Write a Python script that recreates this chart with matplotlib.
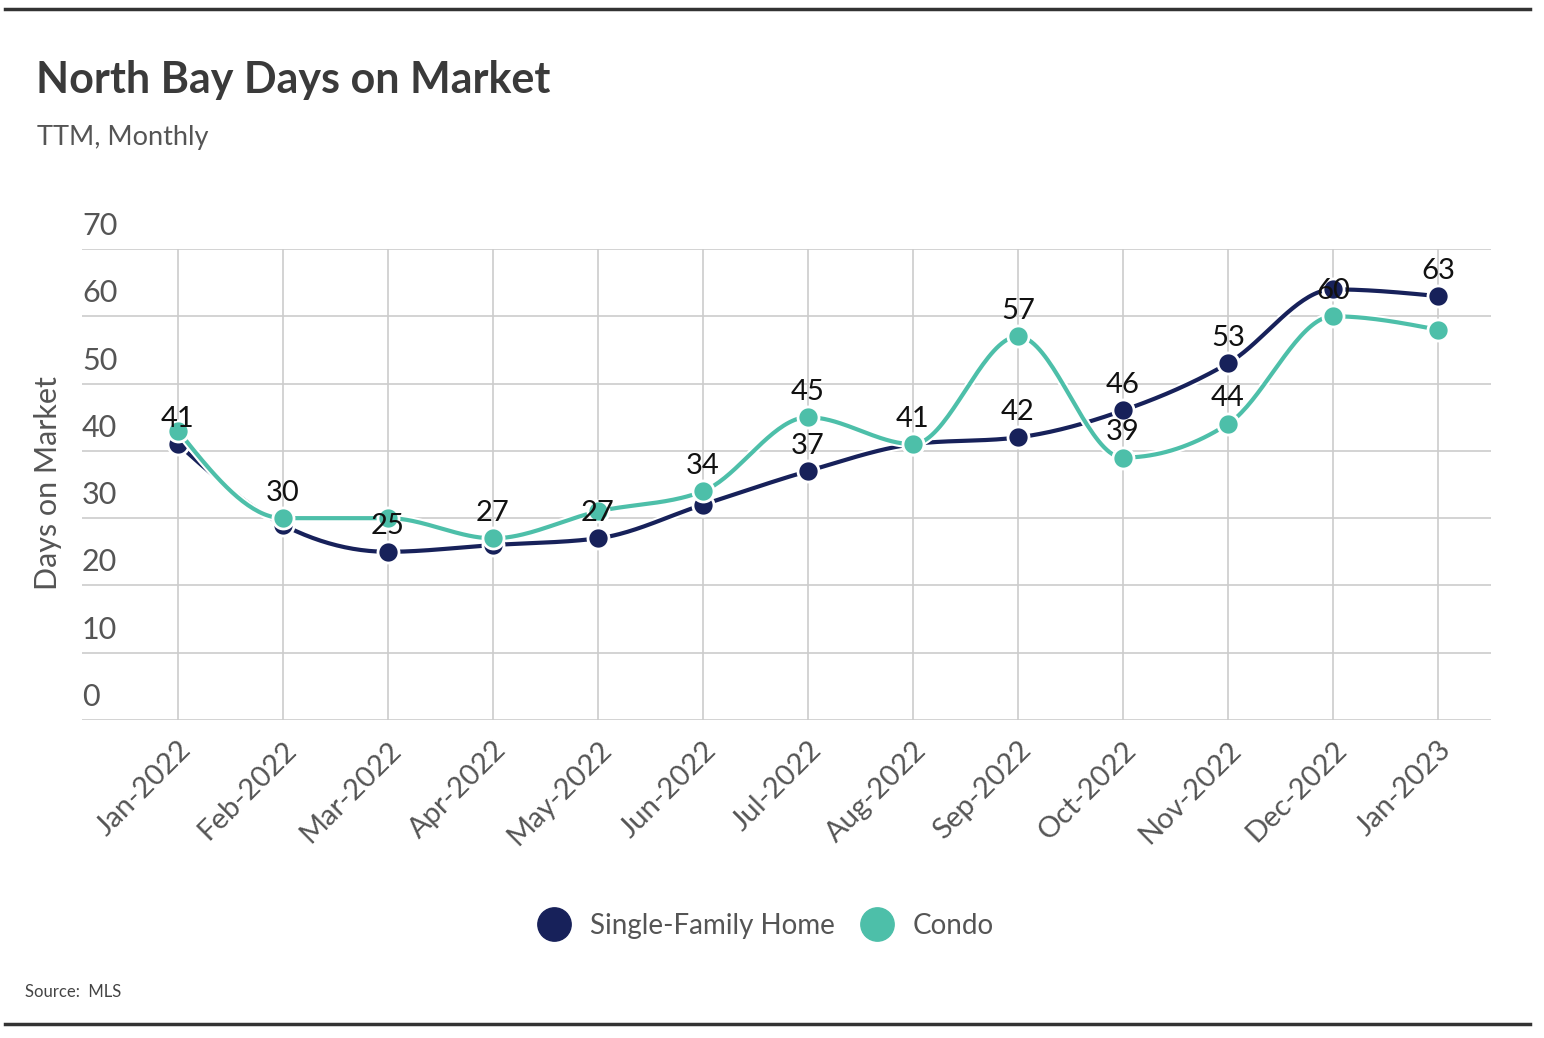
import numpy as np
import matplotlib.pyplot as plt
from matplotlib.lines import Line2D
from matplotlib.transforms import ScaledTranslation

months = ['Jan-2022', 'Feb-2022', 'Mar-2022', 'Apr-2022', 'May-2022', 'Jun-2022',
          'Jul-2022', 'Aug-2022', 'Sep-2022', 'Oct-2022', 'Nov-2022', 'Dec-2022', 'Jan-2023']
sfh = [41, 29, 25, 26, 27, 32, 37, 41, 42, 46, 53, 64, 63]
condo = [43, 30, 30, 27, 31, 34, 45, 41, 57, 39, 44, 60, 58]
# labels that are visible in the original (others hidden by overlap)
sfh_labels = [41, None, 25, None, 27, None, 37, 41, 42, 46, 53, None, 63]
condo_labels = [None, 30, None, 27, None, 34, 45, None, 57, 39, 44, 60, None]
yticks = [0, 10, 20, 30, 40, 50, 60, 70]

NAVY = '#17215a'
TEAL = '#4dbfa9'
FONT = 'Lato'

plt.rcParams['font.family'] = [FONT, 'DejaVu Sans']


def monotone_curve(y, n=40):
    """Monotone cubic (like d3 curveMonotoneX) through points at x=0..len-1."""
    y = np.asarray(y, dtype=float)
    s = np.diff(y)
    m = np.zeros_like(y)
    for k in range(1, len(y) - 1):
        s0, s1 = s[k - 1], s[k]
        if s0 * s1 <= 0:
            m[k] = 0
        else:
            p = (s0 + s1) / 2
            m[k] = (np.sign(s0) + np.sign(s1)) * min(abs(s0), abs(s1), 0.5 * abs(p))
    m[0] = (3 * s[0] - m[1]) / 2
    m[-1] = (3 * s[-1] - m[-2]) / 2
    xs, ys = [], []
    for k in range(len(y) - 1):
        t = np.linspace(0, 1, n)
        h00 = 2 * t**3 - 3 * t**2 + 1
        h10 = t**3 - 2 * t**2 + t
        h01 = -2 * t**3 + 3 * t**2
        h11 = t**3 - t**2
        xs.append(k + t)
        ys.append(h00 * y[k] + h10 * m[k] + h01 * y[k + 1] + h11 * m[k + 1])
    return np.concatenate(xs), np.concatenate(ys)


fig = plt.figure(figsize=(15.44, 10.38), dpi=100)
ax = fig.add_axes([82 / 1544, 1 - 720 / 1038, (1491 - 82) / 1544, (720 - 249) / 1038])

x = np.arange(len(months))
for vals, col, z in [(sfh, NAVY, 3), (condo, TEAL, 4)]:
    cx, cy = monotone_curve(vals)
    ax.plot(cx, cy, color='white', lw=6, zorder=z, solid_capstyle='round')
    ax.plot(cx, cy, color=col, lw=3, zorder=z + 0.1)
    ax.scatter(x, vals, s=230, color=col, edgecolor='white', linewidth=2, zorder=z + 0.2)

for labs in (sfh_labels, condo_labels):
    for i, v in enumerate(labs):
        if v is None:
            continue
        ax.annotate(str(v), (i, v), xytext=(0, 9), textcoords='offset points',
                    ha='center', va='bottom', fontsize=21, color='#111111', zorder=10)

ax.set_xlim(-0.914, 12.505)
ax.set_ylim(0, 70)
ax.set_yticks(yticks)
ax.set_yticklabels([])
# y labels sit above their gridlines
lift = ax.get_yaxis_transform() + ScaledTranslation(0, 9 / 100, fig.dpi_scale_trans)
for v in yticks:
    ax.text(0, v, str(v), transform=lift, ha='left', va='bottom',
            fontsize=22, color='#555555')
ax.tick_params(axis='y', length=0)
ax.set_xticks(x)
ax.set_xticklabels(months, rotation=45, ha='right', rotation_mode='anchor',
                   fontsize=21, color='#555555')
ax.tick_params(axis='x', length=0, pad=12)
ax.grid(True, color='#cccccc', lw=1.2)
ax.set_axisbelow(True)
for sp in ax.spines.values():
    sp.set_visible(False)

fig.text(48 / 1544, 1 - 483 / 1038, 'Days on Market', rotation=90, ha='center', va='center',
         fontsize=22, color='#555555')

fig.text(36 / 1544, 1 - 80 / 1038, 'North Bay Days on Market', fontsize=31, fontweight='bold',
         color='#3a3a3a', va='center', ha='left')
fig.text(37 / 1544, 1 - 138 / 1038, 'TTM, Monthly', fontsize=19.5, color='#555555',
         va='center', ha='left')
fig.text(25 / 1544, 1 - 992 / 1038, 'Source:  MLS', fontsize=12, color='#444444',
         va='center', ha='left')

handles = [Line2D([], [], marker='o', ls='none', ms=24, color=NAVY, label='Single-Family Home'),
           Line2D([], [], marker='o', ls='none', ms=24, color=TEAL, label='Condo')]
fig.legend(handles=handles, loc='center', bbox_to_anchor=(760 / 1544, 1 - 926 / 1038),
           ncol=2, frameon=False, fontsize=20, labelcolor='#555555',
           handletextpad=0.3, columnspacing=0.5)

fig.add_artist(Line2D([5 / 1544, 1530 / 1544], [1 - 9 / 1038, 1 - 9 / 1038], color='#333333', lw=2.5))
fig.add_artist(Line2D([5 / 1544, 1530 / 1544], [1 - 1024 / 1038, 1 - 1024 / 1038], color='#333333', lw=2.5))

fig.savefig('out.png', dpi=100, facecolor='white')
